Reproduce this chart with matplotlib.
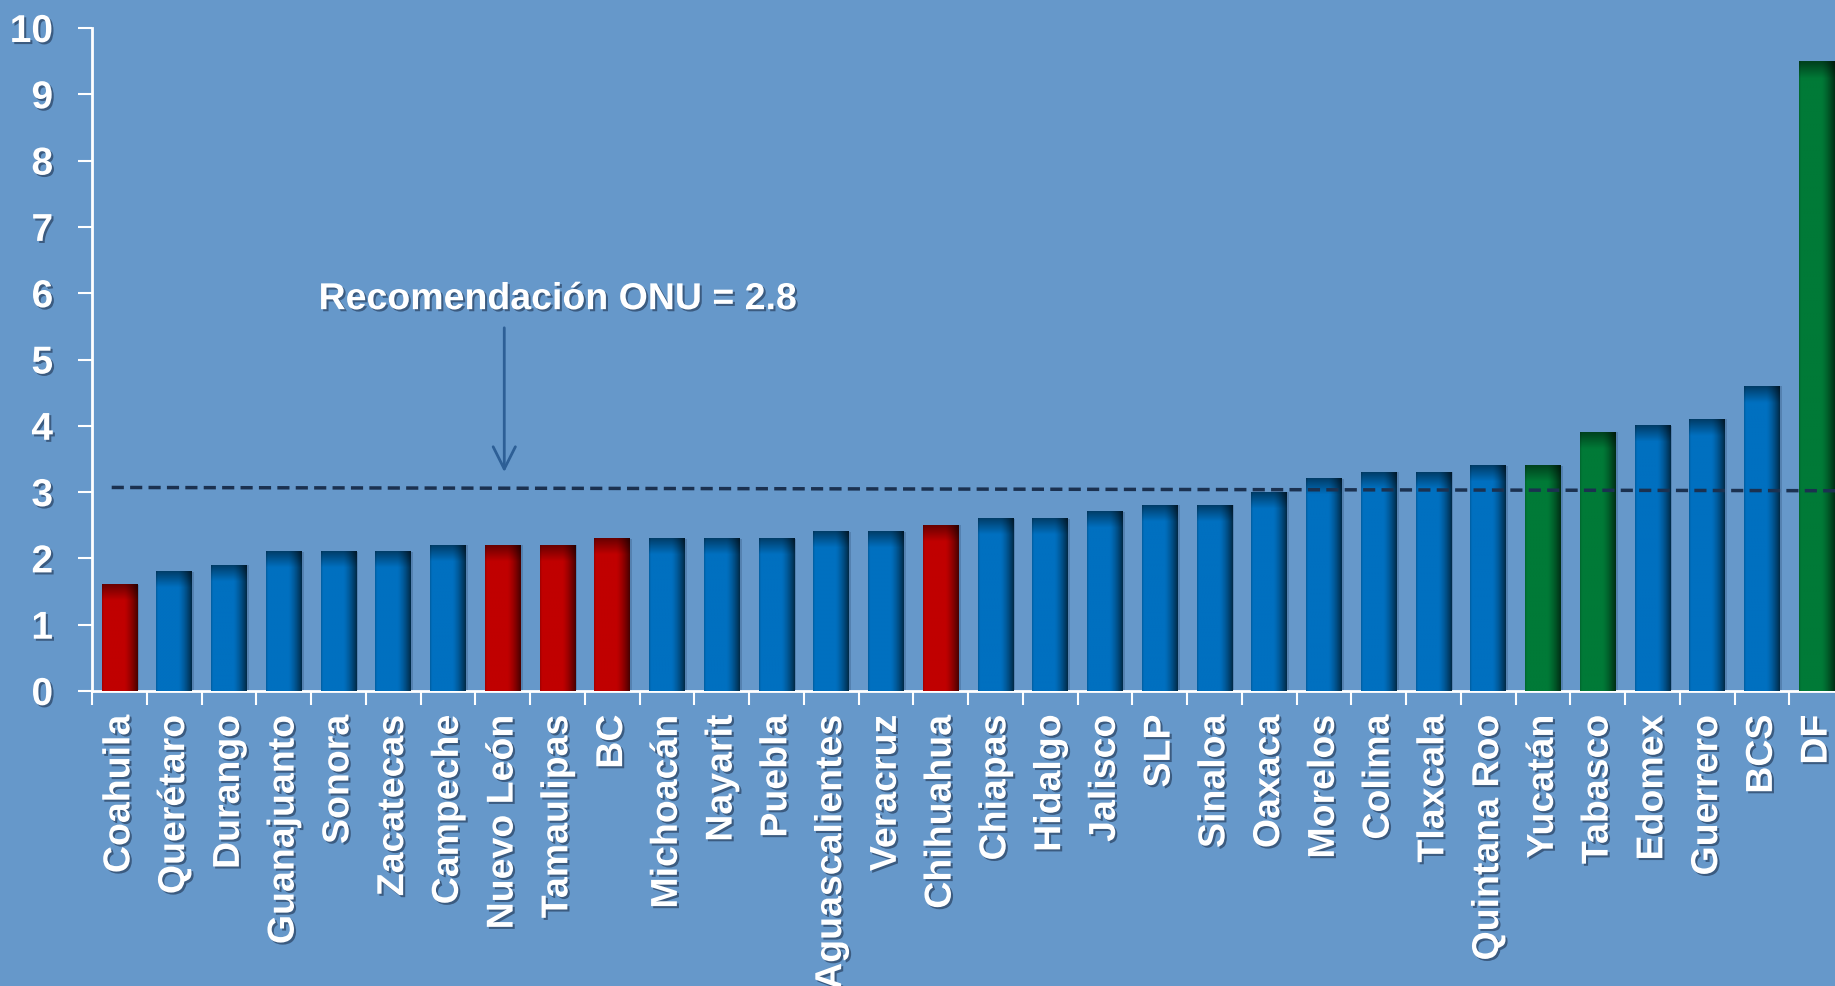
import numpy as np
import matplotlib.pyplot as plt
import matplotlib.patheffects as pe
from matplotlib.colors import to_rgb

# datos
estados = ['Coahuila', 'Querétaro', 'Durango', 'Guanajuanto', 'Sonora', 'Zacatecas',
           'Campeche', 'Nuevo León', 'Tamaulipas', 'BC', 'Michoacán', 'Nayarit',
           'Puebla', 'Aguascalientes', 'Veracruz', 'Chihuahua', 'Chiapas', 'Hidalgo',
           'Jalisco', 'SLP', 'Sinaloa', 'Oaxaca', 'Morelos', 'Colima', 'Tlaxcala',
           'Quintana Roo', 'Yucatán', 'Tabasco', 'Edomex', 'Guerrero', 'BCS', 'DF']
valores = [1.6, 1.8, 1.9, 2.1, 2.1, 2.1, 2.2, 2.2, 2.2, 2.3, 2.3, 2.3, 2.3, 2.4, 2.4,
           2.5, 2.6, 2.6, 2.7, 2.8, 2.8, 3.0, 3.2, 3.3, 3.3, 3.4, 3.4, 3.9, 4.0, 4.1,
           4.6, 9.5]
grupo = ['r', 'b', 'b', 'b', 'b', 'b', 'b', 'r', 'r', 'r', 'b', 'b', 'b', 'b', 'b',
         'r', 'b', 'b', 'b', 'b', 'b', 'b', 'b', 'b', 'b', 'b', 'g', 'g', 'b', 'b',
         'b', 'g']
recomendacion = 'Recomendación ONU = 2.8'
linea_onu = [3.07, 3.02]   # la línea punteada está un poco inclinada

colores = {'r': '#C00000', 'b': '#0070C0', 'g': '#007A37'}
fondo = '#6698CA'

plt.rcParams['font.family'] = ['Liberation Sans', 'DejaVu Sans']
plt.rcParams['font.weight'] = 'bold'

fig = plt.figure(figsize=(18.35, 9.86), dpi=100, facecolor=fondo)
ax = fig.add_axes([92 / 1835, 295 / 986, 1752 / 1835, 663 / 986])
ax.set_facecolor(fondo)

x = np.arange(len(estados))
barras = ax.bar(x, valores, width=0.65, color=[colores[g] for g in grupo], zorder=2)

# sombreado de cada barra (borde derecho y parte superior más oscuros)
px_por_unidad = 66.3
for b, g in zip(barras, grupo):
    base = np.array(to_rgb(colores[g]))
    h = b.get_height()
    nx, ny = 60, 200
    u = np.linspace(0, 1, nx)
    lado = np.ones(nx)
    lado = np.where(u > 0.62, 1 - 0.62 * ((u - 0.62) / 0.38) ** 1.4, lado)
    lado = np.where(u < 0.05, 0.85 + 3 * u, lado)
    yy = np.linspace(0, h, ny) * px_por_unidad
    arriba = np.clip((h * px_por_unidad - yy) / 16, 0, 1)
    arriba = 0.55 + 0.45 * arriba
    f = np.outer(arriba, lado)
    img = base[None, None, :] * f[:, :, None]
    ax.imshow(img, extent=[b.get_x(), b.get_x() + b.get_width(), 0, h],
              origin='lower', aspect='auto', zorder=3, interpolation='bilinear')
    # sombra suave a la derecha
    ax.bar(b.get_x() + b.get_width() / 2 + 0.04, h, width=b.get_width(),
           color='#1f3f66', alpha=0.25, zorder=1.5)

# línea de recomendación
ax.plot([-0.14, len(estados) - 0.3], linea_onu, color='#1B3150', lw=2.5,
        dashes=(3.5, 1.8), zorder=4)

sombra = [pe.SimplePatchShadow(offset=(1.5, -1.5), shadow_rgbFace='#1f3350', alpha=0.6),
          pe.Normal()]

ax.annotate('', xy=(7.03, 3.26), xytext=(7.03, 5.52),
            arrowprops=dict(arrowstyle='->', color='#2D5F96', lw=2,
                            mutation_scale=40), zorder=5)
ax.text(8.0, 5.91, recomendacion, ha='center', va='center', color='white',
        fontsize=27, fontweight='bold', path_effects=sombra, zorder=5)

ax.set_xlim(-0.5, len(estados) - 0.5)
ax.set_ylim(0, 10)
ax.set_yticks(range(0, 11))
ax.set_xticks(x)
ax.set_xticklabels(estados, rotation=90, fontsize=27, fontweight='bold',
                   color='white', va='top', ha='center')
ax.set_xticks(np.arange(-0.5, len(estados), 1), minor=True)

for s in ['top', 'right']:
    ax.spines[s].set_visible(False)
for s in ['left', 'bottom']:
    ax.spines[s].set_color('white')
    ax.spines[s].set_linewidth(2)

ax.tick_params(axis='y', direction='out', length=10, width=1.5, color='white',
               labelcolor='white', labelsize=28, pad=18)
ax.tick_params(axis='x', which='major', length=0, pad=17)
ax.tick_params(axis='x', which='minor', direction='out', length=10, width=1.5,
               color='white')
for t in ax.get_yticklabels():
    t.set_fontweight('bold')
    t.set_path_effects(sombra)
for t in ax.get_xticklabels():
    t.set_path_effects(sombra)

fig.savefig('out.png', dpi=100, facecolor=fondo)
